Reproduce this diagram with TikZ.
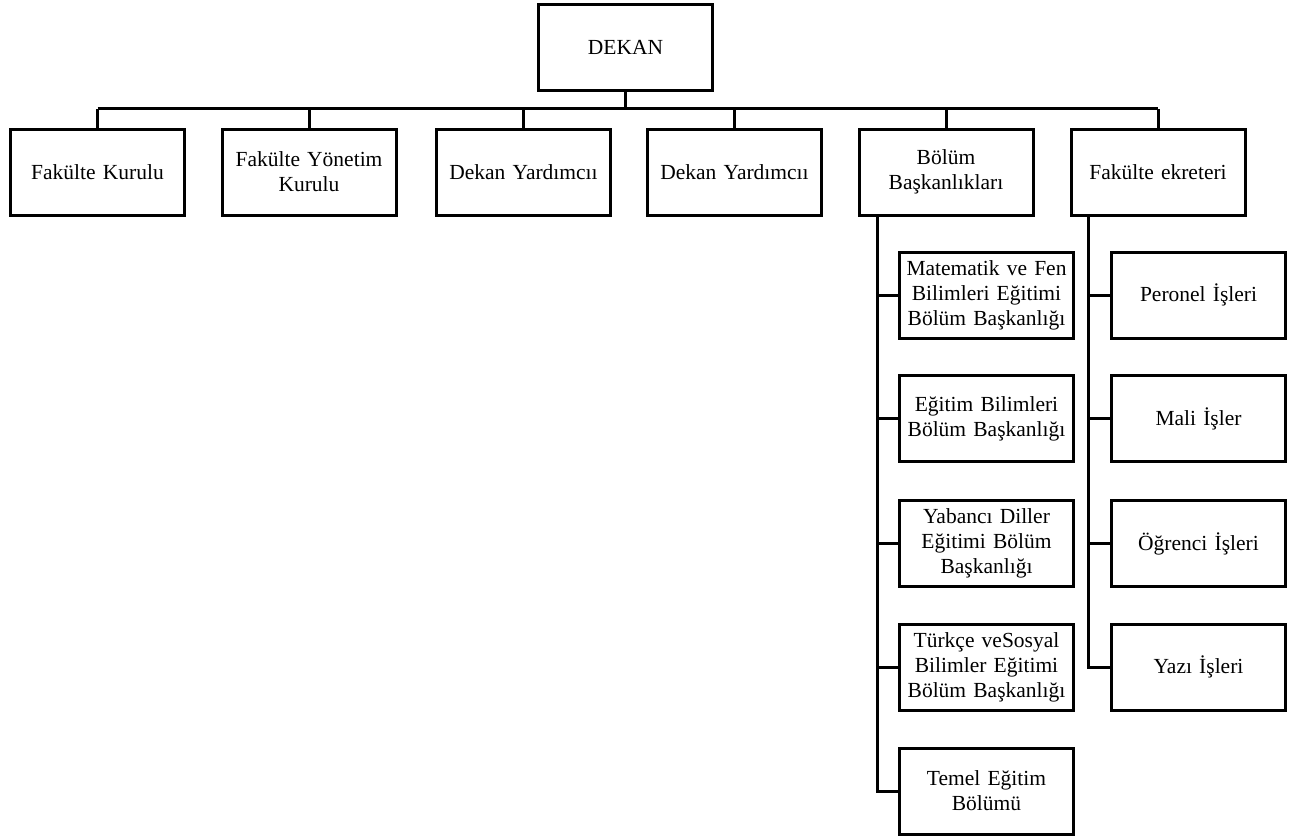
\documentclass[tikz,border=0pt]{standalone}
\usepackage{fontspec}
\setmainfont{Liberation Serif}
\begin{document}
\begin{tikzpicture}[x=1pt,y=-1pt,
  box/.style={draw,line width=3pt,rectangle,minimum width=174pt,minimum height=86pt,
    text width=170pt,align=center,inner sep=0pt,font=\fontsize{21.5}{25}\selectfont},
  conn/.style={line width=3pt}]
\useasboundingbox (0,0) rectangle (1301,839);
\node[box] (dekan) at (625.5,47) {DEKAN};
\node[box] (a1) at (97.5,172) {Fakülte Kurulu};
\node[box] (a2) at (309,172) {Fakülte Yönetim\\Kurulu};
\node[box] (a3) at (523.5,172) {Dekan Yardımcıı};
\node[box] (a4) at (734.5,172) {Dekan Yardımcıı};
\node[box] (a5) at (946,172) {Bölüm\\Başkanlıkları};
\node[box] (a6) at (1158,172) {Fakülte ekreteri};
\node[box] (b1) at (986.5,295) {Matematik ve Fen\\Bilimleri Eğitimi\\Bölüm Başkanlığı};
\node[box] (b2) at (986.5,418.5) {Eğitim Bilimleri\\Bölüm Başkanlığı};
\node[box] (b3) at (986.5,543.5) {Yabancı Diller\\Eğitimi Bölüm\\Başkanlığı};
\node[box] (b4) at (986.5,667) {Türkçe veSosyal\\Bilimler Eğitimi\\Bölüm Başkanlığı};
\node[box] (b5) at (986.5,791) {Temel Eğitim\\Bölümü};
\node[box] (c1) at (1198.5,295) {Peronel İşleri};
\node[box] (c2) at (1198.5,418.5) {Mali İşler};
\node[box] (c3) at (1198.5,543.5) {Öğrenci İşleri};
\node[box] (c4) at (1198.5,667) {Yazı İşleri};
% top bus
\draw[conn] (dekan.south) -- ++(0,17) coordinate (j);
\draw[conn] (a1.north |- j) -- (a6.north |- j);
\foreach \n in {a1,a2,a3,a4,a5,a6}{\draw[conn] (\n.north) -- (\n.north |- j);}
% left branch
\coordinate (sl) at ([xshift=-69pt]a5.south);
\draw[conn] (sl) |- (b5.west);
\foreach \n in {b1,b2,b3,b4}{\draw[conn] (sl |- \n.west) -- (\n.west);}
% right branch
\coordinate (sr) at ([xshift=-70pt]a6.south);
\draw[conn] (sr) |- (c4.west);
\foreach \n in {c1,c2,c3}{\draw[conn] (sr |- \n.west) -- (\n.west);}
\end{tikzpicture}
\end{document}
